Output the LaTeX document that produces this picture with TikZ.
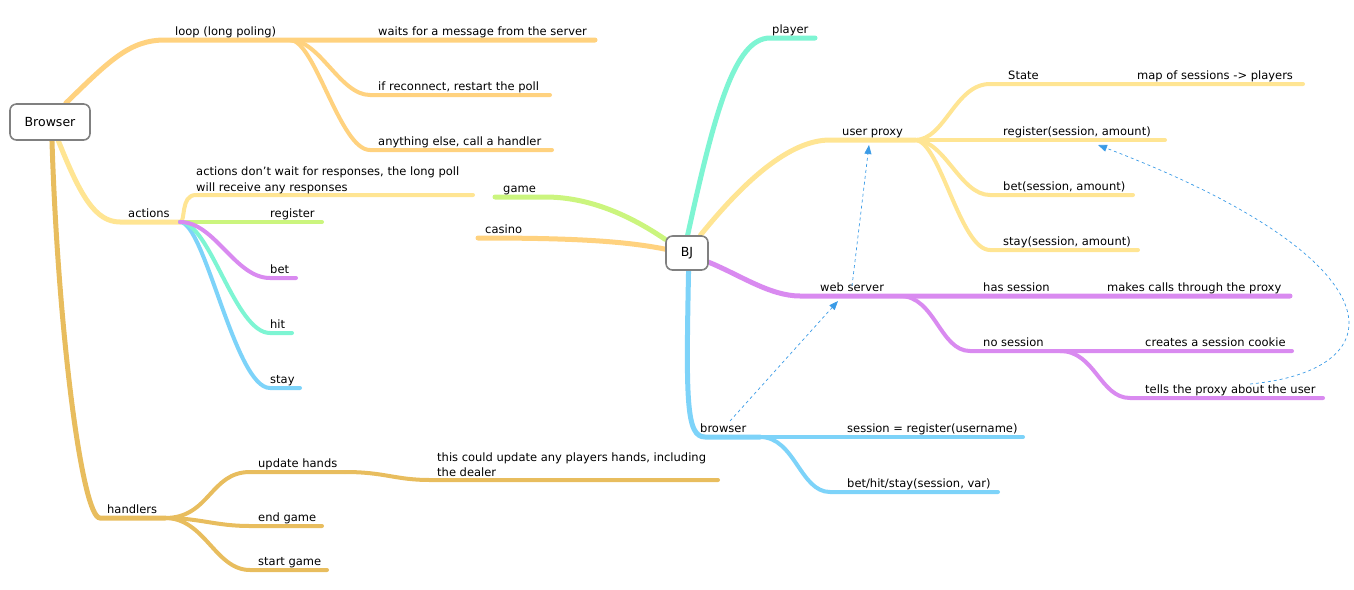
\documentclass[tikz,border=0pt]{standalone}
\usepackage{fontspec}
\setmainfont{DejaVu Sans}
\usepackage{xcolor}
\usepackage{tikz}
\usetikzlibrary{arrows.meta,backgrounds}

\definecolor{loopc}{HTML}{FFD27F}
\definecolor{actc}{HTML}{FFE593}
\definecolor{handc}{HTML}{E8BD5E}
\definecolor{greenc}{HTML}{CBF57E}
\definecolor{purplec}{HTML}{D98AF0}
\definecolor{aquac}{HTML}{7EF5D3}
\definecolor{bluec}{HTML}{7DD3F9}
\definecolor{linkc}{HTML}{3B9BE6}

\begin{document}
\begin{tikzpicture}[
    x = 1pt, y = -1pt,
    every node/.style = {font=\fontsize{11.5}{15.5}\selectfont},
    lbl/.style        = {anchor=base west, inner sep=0pt},
    note/.style       = {anchor=south west, inner sep=0pt, align=left},
    topic/.style      = {draw=gray, line width=1.6pt, rounded corners=1.2ex, fill=white,
                         font=\fontsize{12.5}{15}\selectfont},
    branch/.style     = {line width=4pt, line cap=round},
    trunk/.style      = {line width=5pt, line cap=round},
    link/.style       = {draw=linkc, dashed, line width=0.7pt, -{Triangle[length=9pt,width=7pt]}}
  ]
\useasboundingbox (0,0) rectangle (1354,589);

\node[topic, minimum width=80pt, minimum height=36pt] (browser) at (50,122) {Browser};
\node[topic, minimum width=42pt, minimum height=34pt] (bj) at (687,253) {BJ};

% left side: browser
\coordinate (loopL) at (165,40);  \coordinate (loopR) at (290,40);  \coordinate (waitsR) at (595,40);
\coordinate (reconL) at (370,95); \coordinate (reconR) at (550,95);
\coordinate (elseL) at (370,150); \coordinate (elseR) at (552,150);
\node[lbl] (loop) at (175,35) {loop (long poling)};
\node[lbl] (waits) at (378,35) {waits for a message from the server};
\node[lbl] (recon) at (378,90) {if reconnect, restart the poll};
\node[lbl] (else) at (378,145) {anything else, call a handler};

\coordinate (actL) at (120,222); \coordinate (actR) at (180,222);
\coordinate (noteL) at (196,195); \coordinate (noteR) at (473,195);
\coordinate (regR) at (322,222);
\coordinate (betL) at (270,278);  \coordinate (betR) at (296,278);
\coordinate (hitL) at (270,333);  \coordinate (hitR) at (292,333);
\coordinate (stayL) at (270,388); \coordinate (stayR) at (300,388);
\node[lbl] (actions) at (128,217) {actions};
\node[note] (nowait) at (196,194) {actions don't wait for responses, the long poll\\will receive any responses};
\node[lbl] (register) at (270,217) {register};
\node[lbl] (bet) at (270,273) {bet};
\node[lbl] (hit) at (270,328) {hit};
\node[lbl] (stay) at (270,383) {stay};

\coordinate (handL) at (100,518); \coordinate (handR) at (165,518);
\coordinate (updL) at (250,472);  \coordinate (updR) at (345,472);
\coordinate (dealL) at (430,480); \coordinate (dealR) at (718,480);
\coordinate (endL) at (250,526);  \coordinate (endR) at (322,526);
\coordinate (startL) at (250,570); \coordinate (startR) at (327,570);
\node[lbl] (handlers) at (107,513) {handlers};
\node[lbl] (update) at (258,467) {update hands};
\node[note] (dealer) at (437,477) {this could update any players hands, including\\the dealer};
\node[lbl] (endgame) at (258,521) {end game};
\node[lbl] (startgame) at (258,565) {start game};

% right side: BJ
\coordinate (plL) at (770,38);   \coordinate (plR) at (815,38);
\coordinate (upL) at (830,140);  \coordinate (upR) at (915,140);
\coordinate (stL) at (990,84);   \coordinate (stR) at (1303,84);
\coordinate (rgR) at (1165,140);
\coordinate (bsL) at (990,195);  \coordinate (bsR) at (1133,195);
\coordinate (ssL) at (990,250);  \coordinate (ssR) at (1138,250);
\node[lbl] (player) at (772,33) {player};
\node[lbl] (proxy) at (842,135) {user proxy};
\node[lbl] (state) at (1008,79) {State};
\node[lbl] (map) at (1137,79) {map of sessions -> players};
\node[lbl] (pxreg) at (1003,135) {register(session, amount)};
\node[lbl] (pxbet) at (1003,190) {bet(session, amount)};
\node[lbl] (pxstay) at (1003,245) {stay(session, amount)};

\coordinate (wsL) at (800,296);  \coordinate (wsR) at (900,296);  \coordinate (hsR) at (1290,296);
\coordinate (nsL) at (970,351);  \coordinate (nsR) at (1060,351); \coordinate (ckR) at (1292,351);
\coordinate (tpL) at (1130,398); \coordinate (tpR) at (1323,398);
\node[lbl] (web) at (820,291) {web server};
\node[lbl] (has) at (983,291) {has session};
\node[lbl] (calls) at (1107,291) {makes calls through the proxy};
\node[lbl] (nosess) at (983,346) {no session};
\node[lbl] (cookie) at (1145,346) {creates a session cookie};
\node[lbl] (tells) at (1145,393) {tells the proxy about the user};

\coordinate (bwL) at (705,437);  \coordinate (bwR) at (760,437);  \coordinate (srR) at (1023,437);
\coordinate (bhL) at (830,492);  \coordinate (bhR) at (998,492);
\node[lbl] (client) at (700,432) {browser};
\node[lbl] (sreg) at (847,432) {session = register(username)};
\node[lbl] (bhs) at (847,487) {bet/hit/stay(session, var)};

\coordinate (gmM) at (545,197);  \coordinate (gmL) at (495,197);
\coordinate (csL) at (478,238);
\node[lbl] (game) at (503,192) {game};
\node[lbl] (casino) at (485,233) {casino};

\begin{scope}[on background layer]
  \draw[trunk, loopc] (browser.50) .. controls (110,60) and (130,40) .. (loopL) -- (loopR) -- (waitsR);
  \draw[branch, loopc] (loopR) .. controls (320,40) and (340,95) .. (reconL) -- (reconR);
  \draw[branch, loopc] (loopR) .. controls (315,40) and (340,150) .. (elseL) -- (elseR);

  \draw[trunk, actc] (browser.-66) .. controls (80,195) and (95,222) .. (actL) -- (actR);
  \draw[branch, actc] (actR) .. controls (186,222) and (180,195) .. (noteL) -- (noteR);
  \draw[branch, greenc] (actR) -- (regR);
  \draw[branch, bluec] (actR) .. controls (205,222) and (235,388) .. (stayL) -- (stayR);
  \draw[branch, aquac] (actR) .. controls (210,222) and (235,333) .. (hitL) -- (hitR);
  \draw[branch, purplec] (actR) .. controls (215,222) and (235,278) .. (betL) -- (betR);

  \draw[trunk, handc] (browser.-84) .. controls (58,330) and (82,518) .. (handL) -- (handR);
  \draw[branch, handc] (handR) .. controls (210,518) and (210,472) .. (updL) -- (updR);
  \draw[branch, handc] (updR) .. controls (385,472) and (395,480) .. (dealL) -- (dealR);
  \draw[branch, handc] (handR) .. controls (200,518) and (215,526) .. (endL) -- (endR);
  \draw[branch, handc] (handR) .. controls (205,518) and (215,570) .. (startL) -- (startR);

  \draw[trunk, aquac] (bj.88) .. controls (715,110) and (735,38) .. (plL) -- (plR);
  \draw[trunk, actc] (bj.53) .. controls (745,180) and (790,140) .. (upL) -- (upR);
  \draw[branch, actc] (upR) .. controls (945,140) and (955,84) .. (stL) -- (stR);
  \draw[branch, actc] (upR) -- (rgR);
  \draw[branch, actc] (upR) .. controls (945,140) and (960,195) .. (bsL) -- (bsR);
  \draw[branch, actc] (upR) .. controls (940,140) and (960,250) .. (ssL) -- (ssR);

  \draw[trunk, purplec] (bj.-23) .. controls (740,275) and (770,296) .. (wsL) -- (wsR) -- (hsR);
  \draw[branch, purplec] (wsR) .. controls (935,296) and (940,351) .. (nsL) -- (nsR) -- (ckR);
  \draw[branch, purplec] (nsR) .. controls (1095,351) and (1100,398) .. (tpL) -- (tpR);

  \draw[trunk, bluec] (bj.-85) .. controls (686,400) and (686,437) .. (bwL) -- (bwR);
  \draw[branch, bluec] (bwR) -- (srR);
  \draw[branch, bluec] (bwR) .. controls (795,437) and (800,492) .. (bhL) -- (bhR);

  \draw[trunk, greenc] (bj.148) .. controls (625,212) and (585,197) .. (gmM) -- (gmL);
  \draw[trunk, loopc] (bj.170) .. controls (620,240) and (560,238) .. (csL);
\end{scope}

% dashed links
\coordinate (lnkA) at (730,421); \coordinate (wsM) at (838,301);
\coordinate (lnkB) at (852,286); \coordinate (upM) at (869,145);
\coordinate (lnkC) at (1250,384); \coordinate (rgM) at (1098,145);
\draw[link] (lnkA) -- (wsM);
\draw[link] (lnkB) -- (upM);
\draw[link] (lnkC) .. controls (1400,370) and (1400,260) .. (rgM);
\end{tikzpicture}
\end{document}
